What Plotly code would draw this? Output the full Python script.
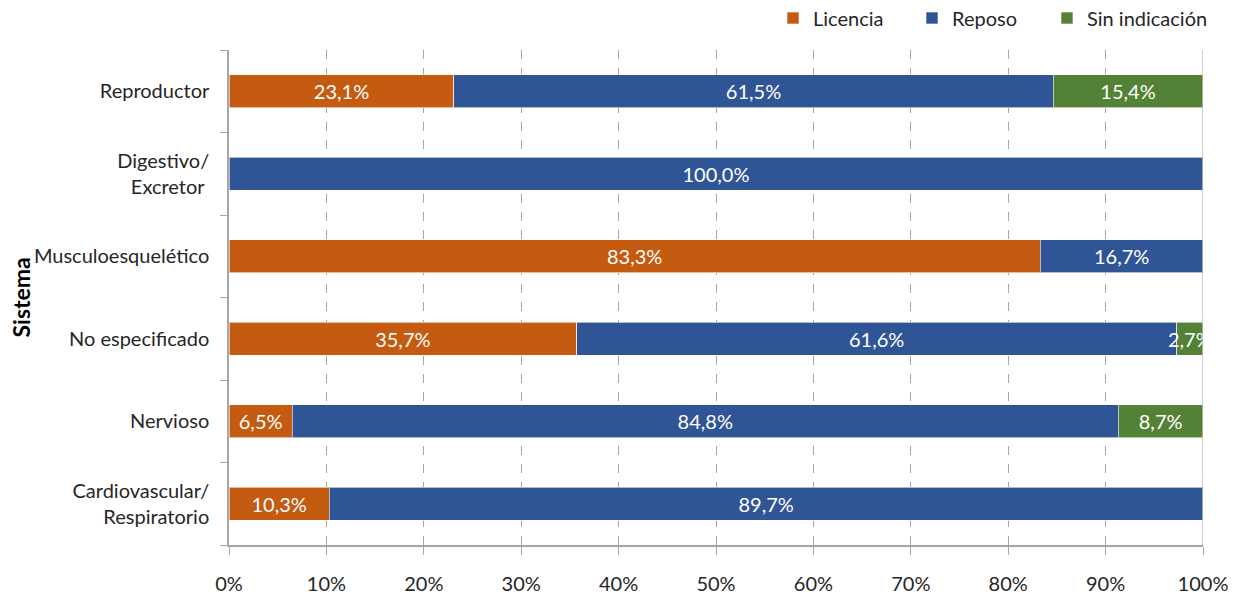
import plotly.graph_objects as go

categories = ["Reproductor", "Digestivo/<br>Excretor ", "Musculoesquelético",
              "No especificado", "Nervioso", "Cardiovascular/<br>Respiratorio"]
licencia = [23.1, 0, 83.3, 35.7, 6.5, 10.3]
reposo = [61.5, 100.0, 16.7, 61.6, 84.8, 89.7]
sin_ind = [15.4, 0, 0, 2.7, 8.7, 0]
series_names = ["Licencia", "Reposo", "Sin indicación"]
colors = ["#C55A11", "#2F5597", "#538135"]
legend_ids = ["legend", "legend", "legend2"]
x_ticks = [i / 10 for i in range(11)]
x_ticklabels = [f"{i*10}%" for i in range(11)]

FONT = "Lato, Open Sans, sans-serif"

def fmt(v):
    return (f"{v:.1f}%").replace(".", ",") if v > 0 else ""

fig = go.Figure()
for name, vals, col, lg in zip(series_names, [licencia, reposo, sin_ind], colors, legend_ids):
    fig.add_trace(go.Bar(
        y=categories, x=[v / 100 for v in vals], name=name, orientation="h",
        marker=dict(color=col, line=dict(color="rgba(255,255,255,0.6)", width=1)),
        text=[fmt(v) for v in vals], textposition="inside", insidetextanchor="middle",
        constraintext="none", textangle=0,
        textfont=dict(color="white", size=20, family=FONT),
        width=0.4, hoverinfo="skip", legend=lg,
    ))

fig.add_shape(type="line", xref="x", yref="paper", x0=1, x1=1, y0=0, y1=1,
              line=dict(color="#BFBFBF", width=1.5))

legend_common = dict(orientation="h", xanchor="left", xref="container",
                     y=1 - 18 / 597, yanchor="middle", yref="container",
                     font=dict(size=20, family=FONT), itemwidth=30,
                     traceorder="normal")

fig.update_layout(
    barmode="stack", width=1241, height=597,
    margin=dict(l=229, r=38, t=50, b=52, autoexpand=False),
    paper_bgcolor="white", plot_bgcolor="white",
    font=dict(family=FONT, size=20, color="#262626"),
    legend=dict(x=773 / 1241, entrywidthmode="pixels", entrywidth=94, **legend_common),
    legend2=dict(x=(773 + 2 * 137) / 1241, **legend_common),
    showlegend=True,
    annotations=[dict(text="<b>Sistema</b>", xref="paper", yref="paper",
                      x=-(229 - 20) / (1241 - 229 - 38), y=0.5,
                      xanchor="center", yanchor="middle",
                      textangle=-90, showarrow=False,
                      font=dict(size=23, family=FONT, color="black"))],
)
fig.update_xaxes(range=[0, 1], tickvals=x_ticks, ticktext=x_ticklabels,
                 showgrid=True, gridcolor="#A6A6A6", griddash="dash", gridwidth=1,
                 zeroline=False, showline=True, linecolor="#A6A6A6", linewidth=1.5,
                 ticks="outside", ticklen=8, tickcolor="#A6A6A6", automargin=False,
                 ticklabelstandoff=12, tickfont=dict(size=20, family=FONT))
fig.update_yaxes(categoryorder="array", categoryarray=categories[::-1],
                 showline=True, linecolor="#A6A6A6", linewidth=1.5,
                 ticks="outside", tickson="boundaries", ticklen=7, tickcolor="#A6A6A6",
                 ticklabelstandoff=14, showgrid=False, automargin=False,
                 tickfont=dict(size=20, family=FONT))

fig.write_html("out.html", config={"displayModeBar": False},
               post_script="document.body.style.margin='0';document.body.style.overflow='hidden';")
